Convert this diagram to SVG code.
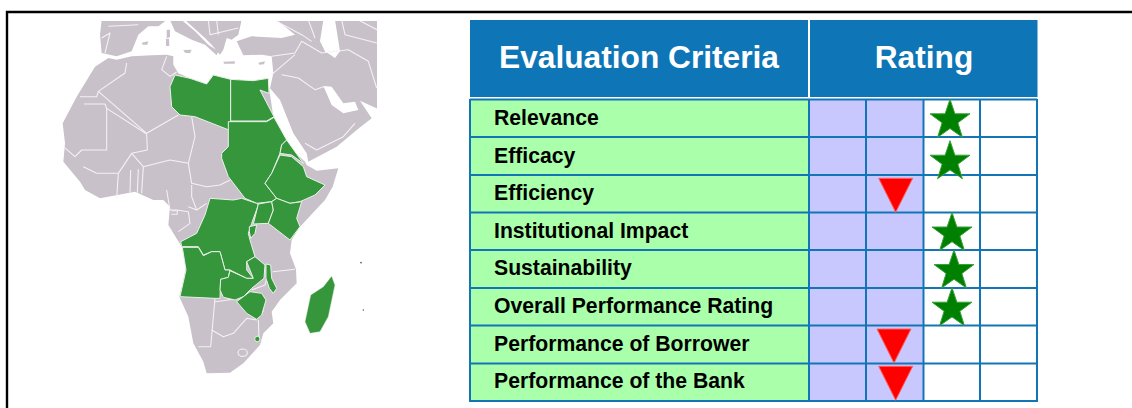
<svg xmlns="http://www.w3.org/2000/svg" width="1132" height="408" viewBox="0 0 1132 408">
<style>
.frame{fill:none;stroke:#000;stroke-width:2.4}
.land{fill:#c9c1c9;stroke:none}
.sea{fill:#fff;stroke:none}
.b{fill:none;stroke:#f4f2f4;stroke-width:3.2;stroke-linejoin:round}
.g{fill:#36963c;stroke:#e8f2e8;stroke-width:3;stroke-linejoin:round}
.hd{fill:#0e75b6}
.ht{font:bold 31.700px "Liberation Sans",Arial,sans-serif;fill:#fff;text-anchor:middle}
.rt{font:bold 21.200px "Liberation Sans",Arial,sans-serif;fill:#000}
.grid{fill:none;stroke:#1276b6;stroke-width:2}
.star{fill:#008000;stroke:#3aa03a;stroke-width:1}
.tri{fill:#ff0000;stroke:#ff6060;stroke-width:1}
</style>
<defs>
<polygon id="star" points="0,-21 4.9,-6.5 20,-6.500 7.900,2.500 12.400,17 0,8.200 -12.400,17 -7.900,2.500 -20,-6.500 -4.900,-6.500"/>
<polygon id="tri" points="-17,0 17,0 0,34"/>
<clipPath id="mapclip"><rect x="0" y="33" width="951" height="1100"/></clipPath>
</defs>
<path class="frame" d="M7 408V12H1132"/>
<g id="map" transform="translate(60,10) scale(.33333)">
<g clip-path="url(#mapclip)">
<polygon class="land" points="125,30 320,30 295,49 265,49 235,74 215,124 170,139 125,129 120,74"/>
<polygon class="land" points="330,30 365,30 405,64 445,104 475,124 470,136 435,104 395,89 345,64"/>
<polygon class="land" points="375,30 545,30 535,74 515,89 500,84 490,119 480,134 455,104 435,84"/>
<polygon class="land" points="530,94 575,79 665,84 705,74 650,30 960,30 960,300 900,272 935,325 890,360 830,410 745,455 740,430 700,370 660,270 630,235 640,190 635,139 605,134 550,136"/>
<polygon class="sea" points="790,30 825,30 840,124 825,144 795,124 780,94"/>
<polygon class="sea" points="790,228 815,230 850,280 885,275 895,300 850,310 815,285"/>
<polygon class="land" points="320,59 330,59 330,82 320,84"/>
<polygon class="land" points="318,86 327,86 328,108 318,108"/>
<polygon class="land" points="370,120 395,119 390,130 375,128"/>
<polygon class="land" points="490,155 525,154 524,161 492,161"/>
<polygon class="land" points="595,158 615,154 612,163 598,164"/>
<polygon class="land" points="245,98 265,94 262,104 248,104"/>
<polygon class="land" points="105,170 145,144 170,149 215,139 275,136 320,134 340,139 340,164 355,190 390,205 440,222 460,195 510,208 580,212 625,205 628,240 640,320 665,390 735,455 740,465 770,482 835,475 818,530 795,570 720,650 695,690 690,730 708,778 710,820 660,870 635,905 640,940 610,970 600,1005 550,1060 510,1088 440,1090 430,1055 400,1000 385,920 358,860 370,810 378,770 365,710 325,645 330,590 310,570 280,570 225,545 120,565 75,540 60,515 10,455 15,400 8,340 50,260"/>
<g>
<polyline class="b" points="200,159 195,189 115,244 260,370 355,315"/>
<polyline class="b" points="60,260 110,260 115,244"/>
<polyline class="b" points="72,282 135,282 140,295 140,420 65,420 45,440 10,410"/>
<polyline class="b" points="140,295 260,372 262,420 215,430 250,470 330,450 385,460 405,380 395,320"/>
<polyline class="b" points="320,139 305,179 330,199 350,186"/>
<polyline class="b" points="385,460 395,520 440,530 480,525 510,510"/>
<polyline class="b" points="70,470 110,490 175,490 215,430"/>
<polyline class="b" points="175,490 170,565"/>
<polyline class="b" points="212,480 210,548"/>
<polyline class="b" points="235,478 232,548"/>
<polyline class="b" points="250,470 245,550"/>
<polyline class="b" points="320,540 330,600 350,600 385,605 390,640 355,665"/>
<polyline class="b" points="385,590 410,600 440,580"/>
<polyline class="b" points="395,525 395,560 410,600"/>
<polyline class="b" points="334,602 352,602 352,613 334,613"/>
<polyline class="b" points="465,865 452,1010 415,1010"/>
<polyline class="b" points="465,875 522,868"/>
<polyline class="b" points="455,960 490,980 520,970 560,925 590,930"/>
<polyline class="b" points="595,930 597,985"/>
<polyline class="b" points="638,785 705,778"/>
<polyline class="b" points="575,840 615,825 622,800"/>
<polyline class="b" points="610,905 605,870"/>
<ellipse class="b" cx="548" cy="1028" rx="14" ry="11"/>
<polyline class="b" points="635,139 705,129 725,94 785,129 865,119 925,154 950,234"/>
<polyline class="b" points="635,194 705,134"/>
<polyline class="b" points="665,194 715,204 765,239 795,229"/>
<polyline class="b" points="735,400 770,420 850,380 885,340"/>
<polyline class="b" points="650,34 725,74 755,94"/>
<polyline class="b" points="745,30 765,84"/>
<polyline class="b" points="845,30 855,74 951,99"/>
<polyline class="b" points="895,30 951,59"/>
<polyline class="b" points="125,84 150,69 135,129"/>
<polyline class="b" points="235,44 145,49"/>
<polyline class="b" points="445,30 450,74 535,54"/>
<polyline class="b" points="470,30 475,74"/>
</g>
</g>
<g id="green-states">
<polygon class="g" points="345,195 390,205 440,222 460,195 512,208 512,362 405,320 360,315 335,290 330,230"/>
<polygon class="g" points="512,208 580,212 625,205 627,250 600,240 642,320 620,333 512,333"/>
<polygon class="g" points="505,335 620,335 642,322 680,390 665,405 660,430 635,490 615,520 650,565 635,575 590,580 555,565 505,500 485,445 485,430 505,410"/>
<polygon class="g" points="680,390 730,460 695,435 660,430 665,405"/>
<polygon class="g" points="660,435 695,440 730,470 740,500 795,525 765,555 720,575 690,580 650,565 615,520 635,490"/>
<polygon class="g" points="450,565 520,570 545,565 590,580 595,585 575,640 565,670 570,690 585,740 560,755 560,780 580,805 560,805 510,780 495,780 480,725 455,725 430,735 415,710 365,710 362,695 410,670 435,615"/>
<polygon class="g" points="595,582 635,575 640,600 625,640 580,642"/>
<polygon class="g" points="635,575 650,565 690,580 725,575 710,625 720,650 690,690 625,640 640,600"/>
<polygon class="g" points="568,650 590,645 585,670 572,685 568,665"/>
<polygon class="g" points="367,712 415,712 430,737 455,725 480,725 495,780 510,780 505,802 482,808 480,865 465,865 360,860 378,780"/>
<polygon class="g" points="510,782 560,805 580,805 560,755 585,740 615,765 612,805 575,835 550,860 525,870 490,862 480,840 482,808 505,802"/>
<polygon class="g" points="618,762 632,765 635,805 650,835 640,850 628,835 618,805"/>
<polygon class="g" points="530,875 570,845 605,850 618,870 605,915 590,928 560,910"/>
<circle class="g" cx="592" cy="987" r="8"/>
<polygon class="g" points="815,798 825,825 805,920 780,965 750,970 735,935 752,855 790,830" style="stroke-width:1.500"/>
<circle cx="903" cy="758" r="2.500" fill="#36663c"/>
<circle cx="910" cy="900" r="2" fill="#36663c"/>
</g>
</g>
<g id="table-header">
<rect class="hd" x="470" y="20" width="338" height="77"/>
<rect class="hd" x="810" y="20" width="227.500" height="77"/>
<text class="ht" x="639" y="68">Evaluation Criteria</text>
<text class="ht" x="924" y="68">Rating</text>
</g>
<g id="table-fills">
<rect x="470" y="99.500" width="339" height="301.500" fill="#aaffaa"/>
<rect x="809" y="99.500" width="114.500" height="301.500" fill="#c8c8ff"/>
<rect x="923.500" y="99.500" width="113.500" height="301.500" fill="#fff"/>
</g>
<g id="table-grid">
<path class="grid" d="M470 99.500H1037M470 137H1037M470 175H1037M470 212.500H1037M470 250H1037M470 288H1037M470 325.500H1037M470 363.500H1037M470 401H1037M470 99V402M809 99V402M866 99V402M923.500 99V402M980 99V402M1037 99V402"/>
</g>
<g id="row-labels">
<text class="rt" x="494" y="124.500">Relevance</text>
<text class="rt" x="494" y="162.500">Efficacy</text>
<text class="rt" x="494" y="199.500">Efficiency</text>
<text class="rt" x="494" y="237.500">Institutional Impact</text>
<text class="rt" x="494" y="274.500">Sustainability</text>
<text class="rt" x="494" y="312.500">Overall Performance Rating</text>
<text class="rt" x="494" y="350.500">Performance of Borrower</text>
<text class="rt" x="494" y="387.500">Performance of the Bank</text>
</g>
<g id="ratings">
<use href="#star" class="star" x="950" y="120.300"/>
<use href="#star" class="star" x="950" y="161.700"/>
<use href="#tri" class="tri" x="895.700" y="178.300"/>
<use href="#star" class="star" x="952" y="233.500"/>
<use href="#star" class="star" x="954" y="271"/>
<use href="#star" class="star" x="952" y="308.700"/>
<use href="#tri" class="tri" x="894" y="329"/>
<use href="#tri" class="tri" x="895.700" y="366.300"/>
</g>
</svg>
